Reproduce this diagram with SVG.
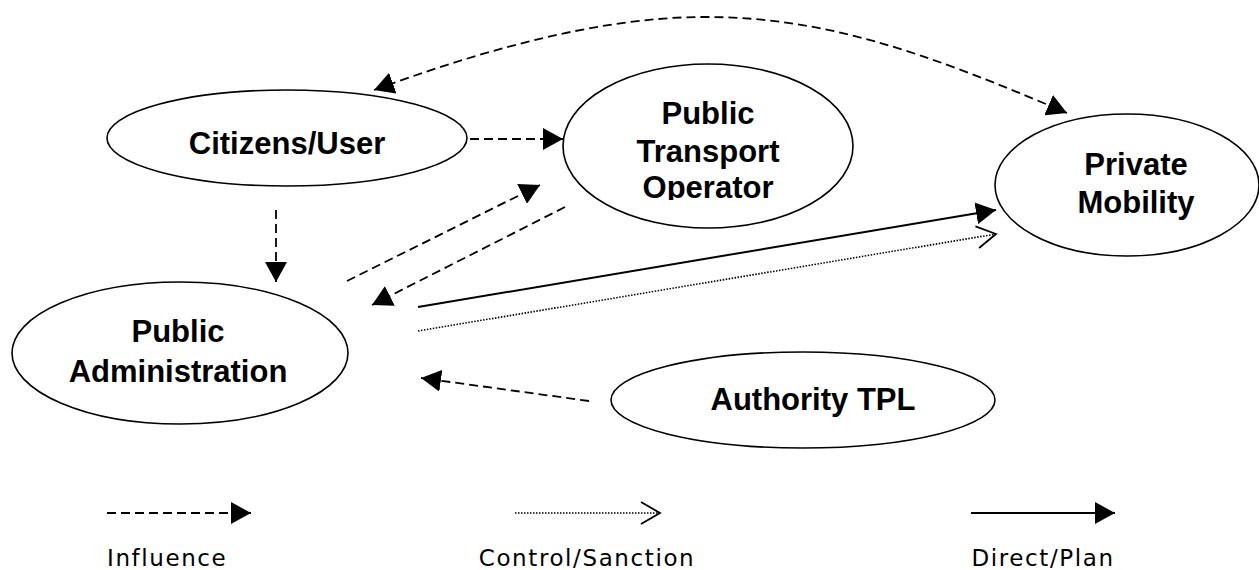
<svg xmlns="http://www.w3.org/2000/svg" width="1259" height="570" viewBox="0 0 1259 570">
<defs>
<style>
.node ellipse{fill:#fff;stroke:#000;stroke-width:1.6}
.lbl{font-family:"Liberation Sans",Arial,sans-serif;font-weight:bold;font-size:31px;text-anchor:middle;fill:#000}
.leg{font-family:"DejaVu Sans",Verdana,sans-serif;font-size:23px;letter-spacing:1.6px;fill:#000}
.dash{fill:none;stroke:#000;stroke-width:1.8;stroke-dasharray:9 5}
.solid{fill:none;stroke:#000;stroke-width:2}
.dot{fill:none;stroke:#000;stroke-width:1.6;stroke-dasharray:1.5 1.5}
</style>
<marker id="tri" viewBox="0 0 20 22" refX="20" refY="11" markerWidth="20" markerHeight="22" markerUnits="userSpaceOnUse" orient="auto-start-reverse">
<path d="M0,0 L20,11 L0,22 Z" fill="#000"/>
</marker>
<marker id="chev" viewBox="0 0 22 24" refX="20" refY="12" markerWidth="22" markerHeight="24" markerUnits="userSpaceOnUse" orient="auto">
<path d="M1,1 L20,12 L1,23" fill="none" stroke="#000" stroke-width="1.8"/>
</marker>
<clipPath id="ptoclip"><rect x="560" y="60" width="300" height="140"/></clipPath>
</defs>
<rect width="1259" height="570" fill="#fff"/>

<g id="citizens" class="node">
<ellipse cx="287" cy="138" rx="180" ry="48"/>
<text class="lbl" x="287" y="154">Citizens/User</text>
</g>
<g id="pto" class="node">
<ellipse cx="708" cy="146" rx="145" ry="82"/>
<g clip-path="url(#ptoclip)">
<text class="lbl" x="708" y="124">Public</text>
<text class="lbl" x="708" y="162">Transport</text>
<text class="lbl" x="708" y="198">Operator</text>
</g>
</g>
<g id="private" class="node">
<ellipse cx="1127" cy="185" rx="132" ry="71"/>
<text class="lbl" x="1136" y="175">Private</text>
<text class="lbl" x="1136" y="213">Mobility</text>
</g>
<g id="padmin" class="node">
<ellipse cx="180" cy="353" rx="168" ry="71"/>
<text class="lbl" x="178" y="342">Public</text>
<text class="lbl" x="178" y="382">Administration</text>
</g>
<g id="authority" class="node">
<ellipse cx="803" cy="400" rx="192" ry="48"/>
<text class="lbl" x="813" y="410">Authority TPL</text>
</g>

<g id="connectors">
<path class="dash" d="M374,90 C470,55 590,18 700,17 C820,16 920,50 1067,113" marker-start="url(#tri)" marker-end="url(#tri)"/>
<path class="dash" d="M470,139 L563,139" marker-end="url(#tri)"/>
<path class="dash" d="M276,210 L276,282" marker-end="url(#tri)"/>
<path class="dash" d="M347,281 L540,185" marker-end="url(#tri)"/>
<path class="dash" d="M565,207 L372,305" marker-end="url(#tri)"/>
<path class="solid" d="M418,307 L996,210" marker-end="url(#tri)"/>
<path class="dot" d="M418,331 L996,234" marker-end="url(#chev)"/>
<path class="dash" d="M589,401 L421,378" marker-end="url(#tri)"/>
</g>

<g id="legend">
<path class="dash" d="M107,513 L251,513" marker-end="url(#tri)"/>
<path class="dot" d="M515,513 L660,513" marker-end="url(#chev)"/>
<path class="solid" d="M971,513 L1115,513" marker-end="url(#tri)"/>
<text class="leg" x="107" y="566">Influence</text>
<text class="leg" x="587" y="566" text-anchor="middle">Control/Sanction</text>
<text class="leg" x="1043" y="566" text-anchor="middle">Direct/Plan</text>
</g>
</svg>
